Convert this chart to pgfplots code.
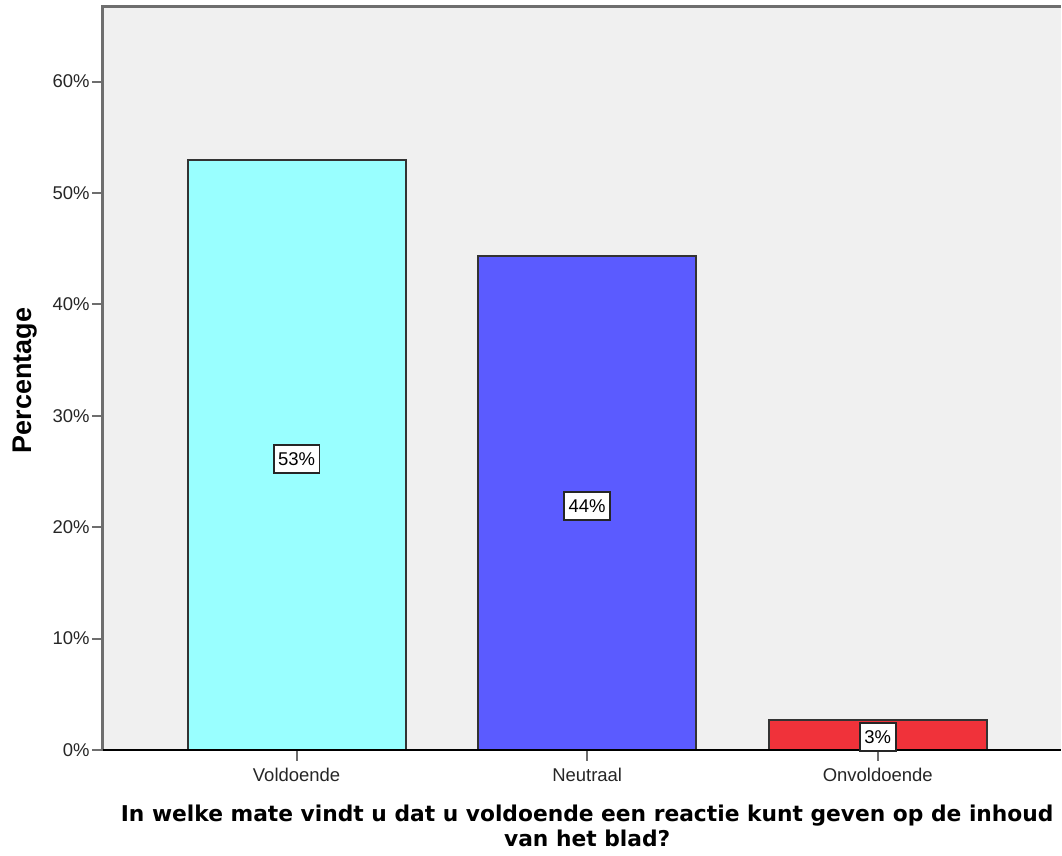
\documentclass[border=0pt]{standalone}
\usepackage{pgfplots}
\pgfplotsset{compat=1.18}
\usepackage{fontspec}
\setmainfont{Liberation Sans}
\newfontfamily\titlefont{DejaVu Sans}
\definecolor{bggray}{HTML}{F0F0F0}
\definecolor{axgray}{HTML}{6E6E6E}
\definecolor{barcyan}{HTML}{99FFFF}
\definecolor{barblue}{HTML}{5B5BFF}
\definecolor{barred}{HTML}{F0323A}
\definecolor{bardraw}{HTML}{333333}
\begin{document}
\begin{tikzpicture}
\begin{axis}[
  name=ax,
  at={(0pt,0pt)}, anchor=south west,
  scale only axis, width=959pt, height=744pt,
  xmin=-0.6667, xmax=2.6289, ymin=0, ymax=66.7,
  axis background/.style={fill=bggray},
  axis line style={draw=none},
  tick style={draw=axgray, line width=2pt},
  tick align=outside, major tick length=11pt,
  xtick pos=bottom, ytick pos=left,
  xtick={0,1,2}, xticklabels={Voldoende,Neutraal,Onvoldoende},
  ytick={0,10,20,30,40,50,60},
  yticklabels={0\%,10\%,20\%,30\%,40\%,50\%,60\%},
  ticklabel style={font=\fontsize{18.5}{20}\selectfont, text=black!85},
  xticklabel style={inner sep=0pt, yshift=-7pt},
  yticklabel style={inner sep=0pt, xshift=-2pt},
  clip=false,
]
\addplot[ybar, bar width=0.75, bar shift=0pt, fill=barcyan, draw=bardraw, line width=2pt] coordinates {(0,53.0)};
\addplot[ybar, bar width=0.75, bar shift=0pt, fill=barblue, draw=bardraw, line width=2pt] coordinates {(1,44.3)};
\addplot[ybar, bar width=0.75, bar shift=0pt, fill=barred, draw=bardraw, line width=2pt] coordinates {(2,2.7)};
\draw[axgray, line width=3pt] (rel axis cs:0,0) -- (rel axis cs:0,1) -- (rel axis cs:1,1);
\draw[black, line width=2pt] (rel axis cs:0,0) -- (rel axis cs:1,0);
\addplot[draw=none, mark=none, nodes near coords, point meta=explicit symbolic,
  every node near coord/.append style={anchor=center, fill=white, draw=black!85, line width=1.8pt, inner xsep=4.5pt, inner ysep=7.5pt, font=\fontsize{18.5}{20}\selectfont}]
  coordinates {(0,26.1) [53\%] (1,21.9) [44\%] (2,1.15) [3\%]};
\end{axis}
\node[rotate=90, anchor=south, inner sep=0pt, font=\bfseries\fontsize{27}{30}\selectfont]
  at ([xshift=-66pt, yshift=-2pt]ax.west) {Percentage};
\node[anchor=north, align=center, inner sep=0pt, font=\titlefont\bfseries\fontsize{21.8}{24.5}\selectfont]
  at ([xshift=5.5pt, yshift=-55pt]ax.south) {In welke mate vindt u dat u voldoende een reactie kunt geven op de inhoud\\van het blad?};
\path (ax.south west) ++(-103pt,-106pt) coordinate (bbA);
\path (ax.south east) ++(0pt,751pt) coordinate (bbB);
\useasboundingbox (bbA) rectangle (bbB);
\end{tikzpicture}
\end{document}
